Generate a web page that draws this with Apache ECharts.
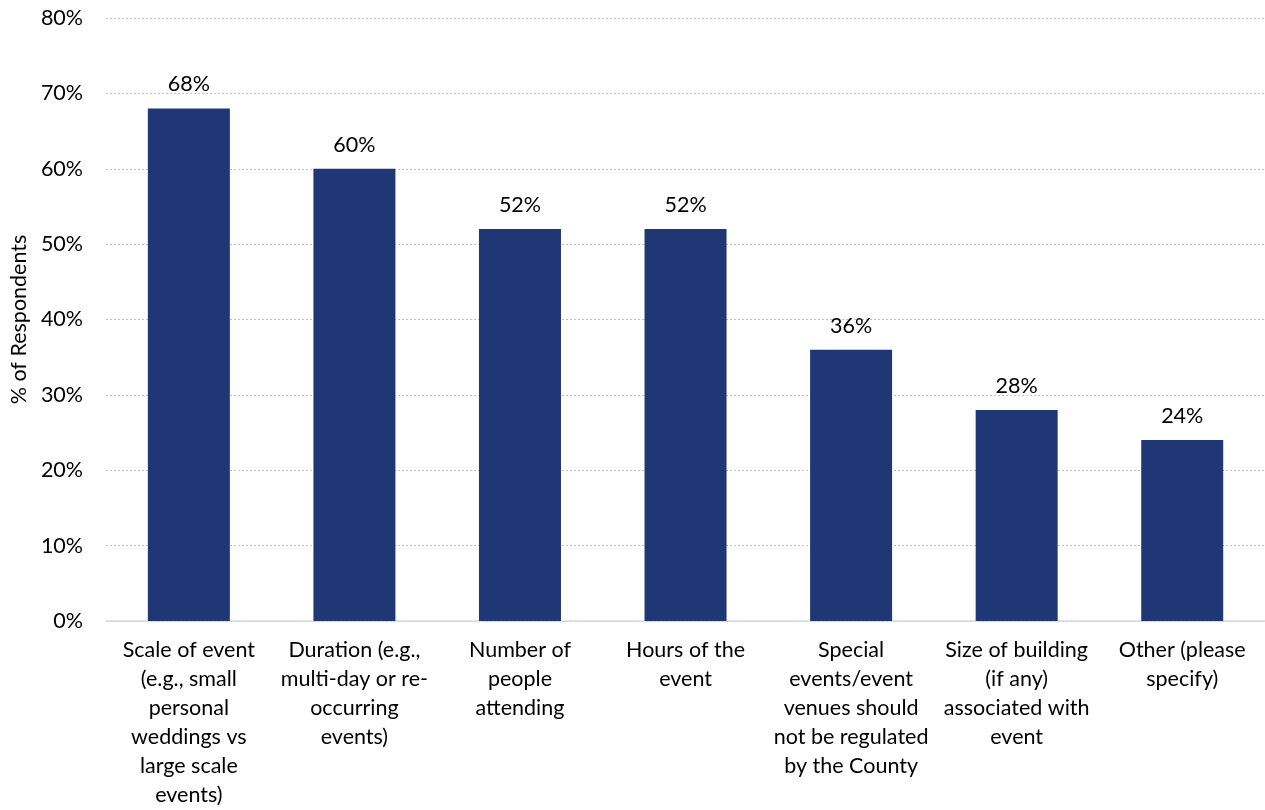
<!DOCTYPE html>
<html><head><meta charset="utf-8">
<script src="https://cdn.jsdelivr.net/npm/echarts@6/dist/echarts.min.js"></script>
<style>html,body{margin:0;padding:0;background:#fff}#c{width:1265px;height:810px}</style>
</head><body><div id="c"></div>
<script>
const categories = [
  "Scale of event\n(e.g., small\npersonal\nweddings vs\nlarge scale\nevents)",
  "Duration (e.g.,\nmulti-day or re-\noccurring\nevents)",
  "Number of\npeople\nattending",
  "Hours of the\nevent",
  "Special\nevents/event\nvenues should\nnot be regulated\nby the County",
  "Size of building\n(if any)\nassociated with\nevent",
  "Other (please\nspecify)"
];
const values = [68, 60, 52, 52, 36, 28, 24];
const yTicks = [0, 10, 20, 30, 40, 50, 60, 70, 80];
const yName = "% of Respondents";

const font = "Lato, 'Open Sans', sans-serif";
const fs = 21.5;
const chart = echarts.init(document.getElementById('c'), null, {renderer: 'canvas'});
chart.setOption({
  animation: false,
  grid: {left: 106, right: 0, top: 18, bottom: 187, containLabel: false},
  xAxis: {
    type: 'category', data: categories,
    axisLine: {lineStyle: {color: '#d9d9d9', width: 1.5}},
    axisTick: {show: false},
    axisLabel: {interval: 0, color: '#000', fontFamily: font, fontSize: fs, lineHeight: 29, margin: 15}
  },
  yAxis: {
    type: 'value', min: yTicks[0], max: yTicks[yTicks.length - 1], interval: 10,
    name: yName, nameLocation: 'middle', nameGap: 76, nameRotate: 90,
    nameTextStyle: {color: '#000', fontFamily: font, fontSize: fs},
    axisLine: {show: false}, axisTick: {show: false},
    axisLabel: {formatter: v => v + '%', color: '#000', fontFamily: font, fontSize: fs, margin: 23},
    splitLine: {lineStyle: {color: '#bfbfbf', type: [2, 2], width: 1}}
  },
  series: [{
    type: 'bar', data: values, barWidth: 82,
    itemStyle: {color: '#203775'},
    label: {show: true, position: 'top', distance: 13, formatter: p => p.value + '%', color: '#000', fontFamily: font, fontSize: fs}
  }]
});
</script></body></html>
